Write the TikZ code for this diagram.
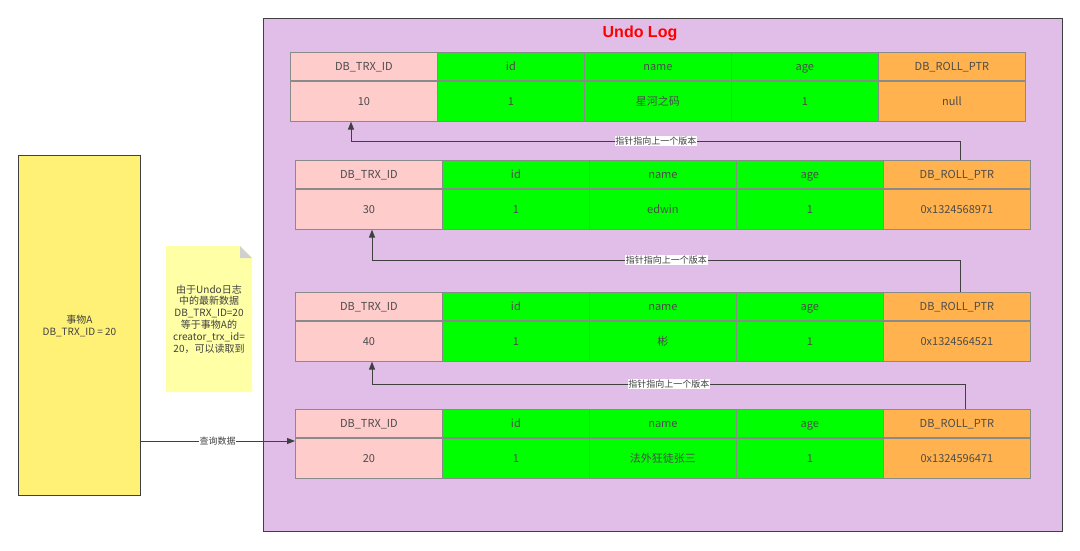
\documentclass[tikz,border=0pt]{standalone}
\usepackage{fontspec}
\setmainfont{Noto Sans CJK SC}
\newfontfamily\titlefont{Liberation Sans}
\usetikzlibrary{arrows.meta}
\definecolor{logbg}{HTML}{E1BEE7}
\definecolor{trxpink}{HTML}{FFCCCC}
\definecolor{datagreen}{HTML}{00FF00}
\definecolor{ptrorange}{HTML}{FFB24D}
\definecolor{txyellow}{HTML}{FFF176}
\definecolor{noteyellow}{HTML}{FFFFA6}
\definecolor{foldgray}{HTML}{D0D0D0}
\definecolor{cellgray}{HTML}{8A8A8A}
\definecolor{linegray}{HTML}{404040}
\begin{document}
\begin{tikzpicture}[x=1pt,y=-1pt,
  cell/.style={draw=cellgray, line width=0.8pt, anchor=north west, inner sep=0pt,
    minimum width=147pt, text height=9pt, text depth=1pt, text=black!70,
    font=\fontsize{11}{13}\selectfont},
  head/.style={cell, minimum height=28pt},
  val/.style={cell, minimum height=40pt},
  ptr/.style={draw=linegray, line width=1pt, -{Triangle[length=8pt,width=6pt]}},
  lbl/.style={fill=white, inner sep=0.6pt, text=black!75, font=\fontsize{9}{10}\selectfont}]
  \useasboundingbox (0,0) rectangle (1080,550);
  \pgfmathsetmacro{\cw}{147}
  % undo log frame
  \node[draw=linegray, line width=1.3pt, fill=logbg, anchor=north west,
    minimum width=799pt, minimum height=513pt] (log) at (263,18) {};
  \node[text=red, font=\titlefont\bfseries\fontsize{16}{18}\selectfont] (title) at (640,33) {Undo Log};
  % version rows
  \foreach \row/\x/\y/\trx/\rname/\rptr in {1/290/52/10/星河之码/null,
      2/295/160/30/edwin/0x1324568971, 3/295/292/40/彬/0x1324564521,
      4/295/409/20/法外狂徒张三/0x1324596471}{
    \foreach \cn/\hd/\val/\fillc in {0/DB\_TRX\_ID/\trx/trxpink, 1/id/1/datagreen,
        2/name/\rname/datagreen, 3/age/1/datagreen, 4/DB\_ROLL\_PTR/\rptr/ptrorange}{
      \node[head, fill=\fillc] (h\row-\cn) at (\x+\cn*\cw, \y) {\hd};
      \node[val, fill=\fillc] (v\row-\cn) at (h\row-\cn.south west) {\val};
    }
  }
  % roll pointers
  \coordinate (k1) at (351,141);
  \coordinate (k2) at (372,260);
  \coordinate (k3) at (372,384);
  \draw[ptr] ([xshift=4pt]h2-4.north) |- node[lbl,pos=0.75] {指针指向上一个版本} (k1) -- (k1 |- v1-0.south);
  \draw[ptr] ([xshift=4pt]h3-4.north) |- node[lbl,pos=0.75] {指针指向上一个版本} (k2) -- (k2 |- v2-0.south);
  \draw[ptr] ([xshift=9pt]h4-4.north) |- node[lbl,pos=0.75] {指针指向上一个版本} (k3) -- (k3 |- v3-0.south);
  % transaction
  \node[draw=linegray, line width=1pt, fill=txyellow, anchor=north west, minimum width=122pt,
    minimum height=340pt, align=center, text=black!75, font=\fontsize{10}{12}\selectfont]
    (txA) at (18,155) {事物A\\DB\_TRX\_ID = 20};
  \coordinate (q) at (140,441);
  \draw[ptr] (q) -- node[lbl] {查询数据} (q -| v4-0.west);
  % note
  \fill[noteyellow] (166,246) -- (240,246) -- (252,258) -- (252,392) -- (166,392) -- cycle;
  \fill[foldgray] (240,246) -- (252,258) -- (240,258) -- cycle;
  \node[align=center, text=black!75, font=\fontsize{10}{11.8}\selectfont] (note) at (209,319)
    {由于Undo日志\\中的最新数据\\DB\_TRX\_ID=20\\等于事物A的\\creator\_trx\_id=\\20，可以读取到};
\end{tikzpicture}
\end{document}
